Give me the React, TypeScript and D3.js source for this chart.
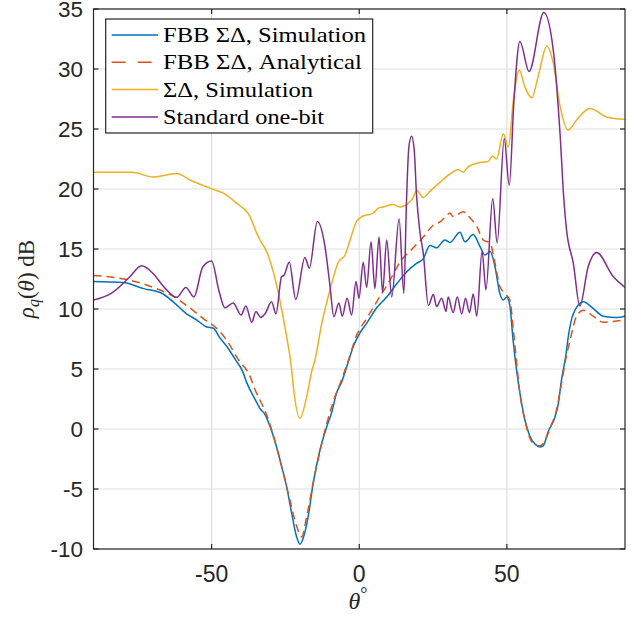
import * as d3 from 'd3'

// theta (deg) vs rho_q (dB)
const fbbSim: [number, number][] = [
  [-90, 12.3], [-80, 12.2], [-73, 11.7], [-66.4, 11.25], [-63, 10.6], [-58.5, 9.6], [-55.1, 9.1],
  [-51.7, 8.5], [-49.4, 8.4], [-47.2, 7.6], [-44.9, 6.9], [-42, 5.8], [-39.5, 4.8], [-38, 3.8],
  [-36, 2.8], [-34.7, 2.2], [-33.6, 1.7], [-31.9, 1.2], [-30.2, 0.2], [-28, -1.5], [-26.3, -3.1],
  [-24.6, -4.8], [-22.9, -7.0], [-21.2, -9.0], [-20.1, -9.6], [-19, -9.1], [-17.3, -7.3],
  [-15.6, -4.5], [-13.3, -1.75], [-11, 0.2], [-9.3, 1.4], [-7.7, 3.0], [-6, 3.9], [-3.7, 5.6],
  [-2, 6.9], [0.2, 8.0], [2.5, 8.8], [5.9, 10.1], [9.3, 11.0], [12.7, 12.1], [16.1, 13.1],
  [19.4, 13.8], [21.7, 14.2], [23.9, 15.3], [26.2, 15.1], [29, 15.75], [30.7, 15.55], [34.1, 16.4],
  [35.8, 15.6], [38.6, 16.2], [40.9, 15.2], [42.6, 14.5], [44.3, 14.8], [46, 13.5], [47.6, 11.3],
  [48.8, 10.75], [49.9, 11.0], [51, 10.3], [52.1, 7.4], [53.5, 4.5], [54.4, 3.0], [56.1, 0.75],
  [57.8, -0.6], [59.5, -1.25], [61.2, -1.5], [62.3, -1.4], [64, -0.2], [66.3, 1.0], [67.4, 2.1],
  [68.5, 4.1], [70, 6.2], [70.8, 7.7], [72.5, 9.6], [75.9, 10.6], [79.2, 10.05], [82.6, 9.4],
  [87.2, 9.3], [90, 9.4],
]

const fbbAnalytical: [number, number][] = [
  [-90, 12.8], [-85.5, 12.7], [-77.6, 12.4], [-70.9, 11.9], [-64.1, 11.2], [-58.5, 10.3],
  [-52.8, 9.2], [-48.3, 8.4], [-44.9, 7.4], [-41, 5.8], [-37, 4.4], [-35.5, 3.4], [-33.6, 2.4],
  [-31.4, 1.2], [-28, -1.5], [-25.7, -3.7], [-23.5, -5.9], [-21.2, -8.1], [-19.5, -9.0],
  [-17.8, -7.3], [-15.6, -4.5], [-12.7, -1.2], [-9.3, 1.9], [-6, 4.1], [-3.7, 5.7], [-0.9, 7.8],
  [2.5, 9.2], [5.9, 10.6], [10.4, 12.4], [13.8, 13.9], [18.3, 15.1], [21.7, 16.0], [25.1, 17.0],
  [27.6, 17.3], [29.6, 17.8], [30.7, 18.0], [31.8, 17.7], [35.2, 18.1], [37.5, 17.6], [39.8, 16.9],
  [42, 15.75], [44.3, 15.5], [46, 13.8], [47.6, 11.9], [49.3, 11.3], [51, 10.75], [52.1, 8.5],
  [53.5, 5], [54.4, 3.0], [56.1, 0.75], [58.4, -1.05], [61.2, -1.4], [62.3, -1.2], [64.6, 0.05],
  [66.8, 1.6], [68.5, 3.8], [70, 5.9], [71.4, 7.4], [73.6, 9.4], [75.9, 9.9], [79.2, 9.4],
  [82.6, 8.9], [87.2, 9.0], [90, 9.1],
]

const sdSim: [number, number][] = [
  [-90, 21.4], [-77, 21.4], [-69.8, 21.0], [-61.8, 21.3], [-57.3, 20.75], [-50.3, 20.05],
  [-46, 19.65], [-41.5, 18.8], [-37, 17.7], [-34.7, 16.3], [-33.6, 15.75], [-31.4, 14.8],
  [-29.1, 13.1], [-26.9, 10.75], [-24.6, 7.7], [-23, 5.2], [-22.3, 3.5], [-20.1, 0.9],
  [-17.8, 2.7], [-16.1, 4.8], [-15, 5.75], [-12.7, 8.8], [-9.9, 11.6], [-7.1, 13.9], [-4.8, 14.5],
  [-3.1, 15.75], [-0.9, 17.3], [1.35, 17.75], [4.7, 17.97], [6.4, 18.4], [8.1, 18.5], [11.5, 18.7],
  [13.8, 18.5], [16.6, 18.8], [18.3, 19.3], [19.4, 19.9], [21.7, 19.3], [23.9, 19.8], [27.3, 20.55],
  [30.7, 21.25], [33.5, 21.6], [35.2, 21.4], [36.9, 21.85], [40.9, 22.2], [43.7, 22.3], [45.2, 22.75],
  [46.5, 22.5], [48.8, 24.6], [50.5, 23.5], [52.2, 27.4], [54.2, 29.9], [56.1, 28.5], [58.4, 27.6],
  [60.6, 29.4], [63.5, 31.9], [65.7, 30.5], [68, 26.9], [70.8, 24.9], [73.6, 25.75], [78.1, 26.7],
  [83.8, 26.0], [90, 25.8],
]

const oneBit: [number, number][] = [
  [-90, 10.75], [-84, 11.3], [-78, 12.6], [-73.7, 13.6], [-70, 13.0], [-66, 11.8], [-61.8, 10.97],
  [-58.7, 11.8], [-56, 11.0], [-53, 13.5], [-50, 14.0], [-47.5, 11.5], [-45.5, 10.1], [-42.7, 10.5],
  [-40, 9.5], [-38.4, 10.25], [-36.4, 8.9], [-35, 9.8], [-33.4, 9.3], [-31.9, 9.6], [-29.7, 10.6],
  [-28.2, 9.6], [-26.3, 12.7], [-25.5, 12.8], [-23.7, 13.9], [-21.5, 10.8], [-18.4, 14.3],
  [-16.9, 13.4], [-14.2, 17.3], [-11.6, 15.2], [-9.9, 11.9], [-8.6, 9.36], [-6.9, 10.5],
  [-5.75, 9.4], [-4.1, 10.9], [-2.6, 9.5], [-1.1, 12.3], [-0.1, 10.9], [1.35, 13.9], [2.5, 11.8],
  [4.0, 15.6], [5.3, 11.7], [6.7, 16.0], [7.9, 11.4], [9.3, 15.75], [11.0, 11.0], [13.5, 17.5],
  [15.1, 11.3], [16.0, 19], [16.8, 23.5], [17.7, 24.4], [18.6, 23.3], [19.4, 19.5], [20.5, 16.5],
  [21.7, 14.6], [23.4, 10.3], [25.1, 11.2], [26.2, 10.2], [27.9, 10.9], [29.4, 9.8], [30.1, 11.0],
  [31.8, 9.7], [33.2, 11.0], [34.7, 9.6], [36.0, 10.9], [37.3, 9.7], [38.6, 11.25], [39.8, 9.4],
  [41.6, 14.8], [42.9, 11.6], [45.2, 19.2], [46.7, 15.5], [49.1, 24.2], [50.8, 20.3], [52.4, 27.4],
  [54.4, 32.3], [57.5, 29.8], [62.5, 34.7], [65.7, 31.6], [68, 24.6], [69.3, 19.1], [70.2, 16.6],
  [72.5, 13.8], [74.7, 10.25], [77.5, 13.5], [80.4, 14.7], [86, 12.7], [90, 11.8],
]

const xTicks = [-50, 0, 50]
const yTicks = [-10, -5, 0, 5, 10, 15, 20, 25, 30, 35]
const legendLabels = ['FBB ΣΔ, Simulation', 'FBB ΣΔ, Analytical', 'ΣΔ, Simulation', 'Standard one-bit']
// rendered widths of the legend entries in the reference (Computer Modern is wider than Times)
const legendWidths = [203, 199, 150, 161]

const W = 634
const H = 617
const left = 93.5
const right = 625
const top = 9
const bottom = 549
const axisColor = '#262626'
const sansFont = '"Liberation Sans", Arial, Helvetica, sans-serif'
const serifFont = '"Liberation Serif", "Times New Roman", serif'

const series = [
  { data: fbbSim, color: '#0072BD', dash: undefined, legendDash: undefined, width: 1.5 },
  { data: fbbAnalytical, color: '#D95319', dash: '8 5', legendDash: '14 12', width: 1.5 },
  { data: sdSim, color: '#EDB120', dash: undefined, legendDash: undefined, width: 1.5 },
  { data: oneBit, color: '#7E2F8E', dash: undefined, legendDash: undefined, width: 1.5 },
]

export default function App() {
  const x = d3.scaleLinear().domain([-90, 90]).range([left, right])
  const y = d3.scaleLinear().domain([-10, 35]).range([bottom, top])

  const line = d3.line<[number, number]>()
    .x(d => x(d[0]))
    .y(d => y(d[1]))
    .curve(d3.curveMonotoneX)

  const tickLen = 5
  const legX = 105.7
  const legY = 19
  const legW = 267
  const legH = 114
  const rowH = 27.3

  return (
    <svg width={W} height={H} style={{ position: 'absolute', left: 0, top: 0, background: '#fff' }}>
      <rect x={0} y={0} width={W} height={H} fill="#fff" />
      <defs>
        <clipPath id="plot">
          <rect x={left} y={top} width={right - left} height={bottom - top} />
        </clipPath>
      </defs>

      {/* grid */}
      {xTicks.map(t => (
        <line key={'gx' + t} x1={x(t)} x2={x(t)} y1={top} y2={bottom} stroke="#dfdfdf" strokeWidth={1.2} />
      ))}
      {yTicks.map(t => (
        <line key={'gy' + t} x1={left} x2={right} y1={y(t)} y2={y(t)} stroke="#dfdfdf" strokeWidth={1.2} />
      ))}

      {/* curves */}
      <g clipPath="url(#plot)">
        {series.map((s, i) => (
          <path key={i} d={line(s.data) ?? ''} fill="none" stroke={s.color}
            strokeWidth={s.width} strokeDasharray={s.dash} strokeLinejoin="round" />
        ))}
      </g>

      {/* box and ticks */}
      <rect x={left} y={top} width={right - left} height={bottom - top} fill="none" stroke={axisColor} strokeWidth={1.2} />
      {xTicks.map(t => (
        <g key={'tx' + t}>
          <line x1={x(t)} x2={x(t)} y1={bottom} y2={bottom - tickLen} stroke={axisColor} strokeWidth={1.2} />
          <line x1={x(t)} x2={x(t)} y1={top} y2={top + tickLen} stroke={axisColor} strokeWidth={1.2} />
          <text x={x(t)} y={582} textAnchor="middle" fontFamily={sansFont} fontSize={23} fill={axisColor}>
            {t}
          </text>
        </g>
      ))}
      {yTicks.map(t => (
        <g key={'ty' + t}>
          <line x1={left} x2={left + tickLen} y1={y(t)} y2={y(t)} stroke={axisColor} strokeWidth={1.2} />
          <line x1={right} x2={right - tickLen} y1={y(t)} y2={y(t)} stroke={axisColor} strokeWidth={1.2} />
          <text x={83} y={y(t) + 8.2} textAnchor="end" fontFamily={sansFont} fontSize={22.5} fill={axisColor}>
            {t}
          </text>
        </g>
      ))}

      {/* axis labels */}
      <text x={358} y={609} textAnchor="middle" fontFamily={serifFont} fontSize={24} fill={axisColor}>
        <tspan fontStyle="italic">θ</tspan><tspan fontSize={18} dy={-9}>°</tspan>
      </text>
      <text transform={`translate(34, ${(top + bottom) / 2}) rotate(-90)`} textAnchor="middle"
        fontFamily={serifFont} fontSize={23} fill={axisColor}>
        <tspan fontStyle="italic">ρ</tspan>
        <tspan fontStyle="italic" fontSize={16} dy={5}>q</tspan>
        <tspan dy={-5}>(</tspan>
        <tspan fontStyle="italic">θ</tspan>
        <tspan>) dB</tspan>
      </text>

      {/* legend */}
      <rect x={legX} y={legY} width={legW} height={legH} fill="#fff" stroke={axisColor} strokeWidth={1.2} />
      {series.map((s, i) => {
        const cy = legY + 16 + i * rowH
        return (
          <g key={'leg' + i}>
            <line x1={111.7} x2={158} y1={cy} y2={cy} stroke={s.color} strokeWidth={s.width} strokeDasharray={s.legendDash} />
            <text x={163} y={cy + 7} fontFamily={serifFont} fontSize={21} fill="#000"
              textLength={legendWidths[i]} lengthAdjust="spacingAndGlyphs">
              {legendLabels[i]}
            </text>
          </g>
        )
      })}
    </svg>
  )
}
